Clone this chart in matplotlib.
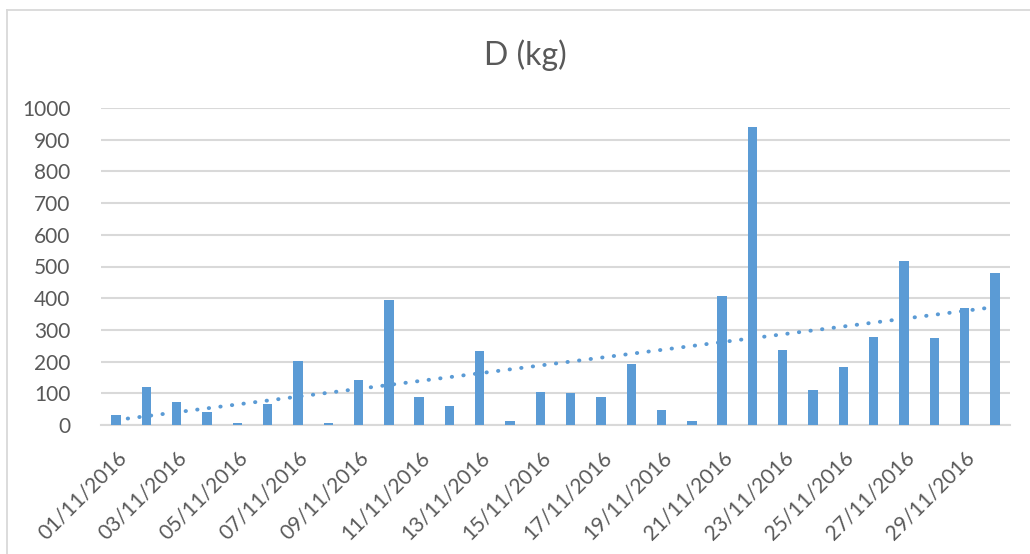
import numpy as np
import matplotlib
matplotlib.use("Agg")
import matplotlib.pyplot as plt
from matplotlib.lines import Line2D

plt.rcParams['font.family'] = ['Lato', 'DejaVu Sans']

title = "D (kg)"
dates = [f"{d:02d}/11/2016" for d in range(1, 31)]
values = [30, 120, 72, 42, 7, 67, 203, 7, 143, 395,
          88, 59, 232, 14, 103, 102, 88, 193, 46, 12,
          408, 940, 236, 110, 184, 278, 517, 275, 368, 480]
yticks = [0, 100, 200, 300, 400, 500, 600, 700, 800, 900, 1000]

W, H = 1030, 554
fig = plt.figure(figsize=(W / 100, H / 100), dpi=100)
ax = fig.add_axes([101 / W, 129 / H, (1010 - 101) / W, (425 - 108) / H])

bar_color = '#5B9BD5'
grid_color = '#D9D9D9'
text_color = '#595959'

x = np.arange(len(values))
ax.bar(x, values, width=0.31, color=bar_color, zorder=3)

# linear trendline
coef = np.polyfit(x, values, 1)
ax.plot(x, np.polyval(coef, x), color=bar_color, lw=2.8,
        dashes=(0.1, 2.9), dash_capstyle='round', zorder=4)

ax.set_xlim(-0.5, len(values) - 0.5)
ax.set_ylim(0, 1000)
ax.set_yticks(yticks)
ax.set_yticklabels([str(v) for v in yticks])
ax.yaxis.grid(True, color=grid_color, lw=1.5, zorder=0)
ax.set_axisbelow(True)

for s in ['left', 'right', 'top']:
    ax.spines[s].set_visible(False)
ax.spines['bottom'].set_color(grid_color)
ax.spines['bottom'].set_linewidth(1.5)

ax.tick_params(axis='y', length=0, pad=22, labelsize=15, labelcolor=text_color)
ax.tick_params(axis='x', length=0, pad=16, labelsize=15, labelcolor=text_color)

ax.set_xticks(x[::2])
ax.set_xticklabels(dates[::2], rotation=45, ha='right', va='top',
                   rotation_mode='anchor')

fig.text(525 / W, 1 - 55 / H, title, ha='center', va='center',
         fontsize=23, color=text_color)

# chart border (top and left visible)
fig.add_artist(Line2D([6.5 / W, 6.5 / W], [0, 1 - 10 / H],
                      transform=fig.transFigure, color=grid_color, lw=1.3))
fig.add_artist(Line2D([6.5 / W, 1], [1 - 10 / H, 1 - 10 / H],
                      transform=fig.transFigure, color=grid_color, lw=1.3))

fig.savefig("out.png", dpi=100)
